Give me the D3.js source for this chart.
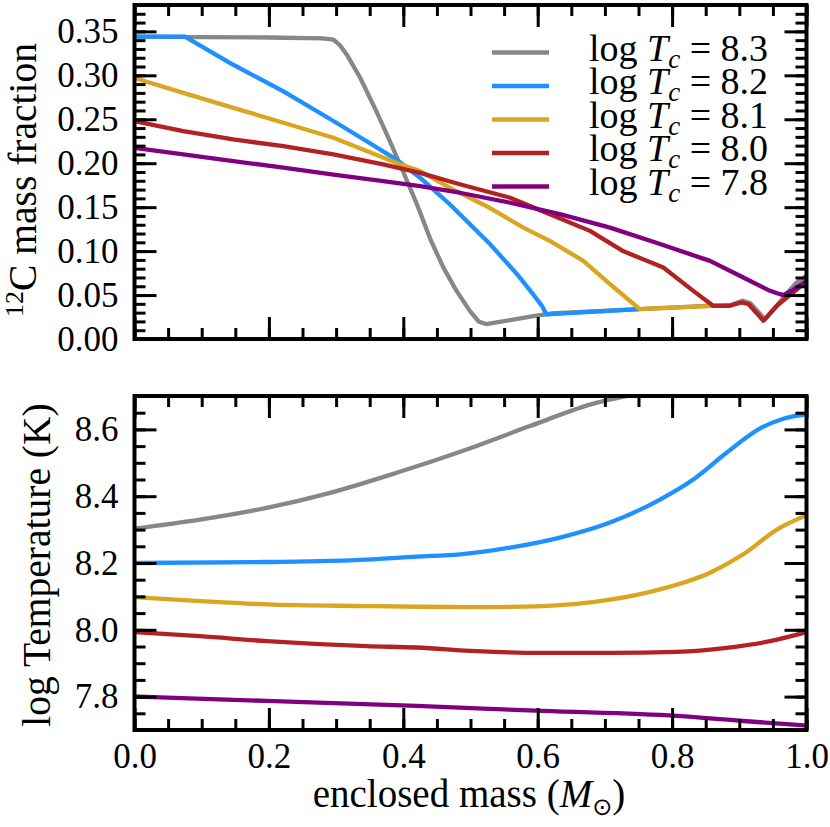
<!DOCTYPE html>
<html>
<head>
<meta charset="utf-8">
<script src="https://cdn.jsdelivr.net/npm/d3@7"></script>
<style>
  body { margin: 0; background: #fff; }
  svg { display: block; }
</style>
</head>
<body>
<div id="chart"></div>
<script>
const seriesNames = ['8.3', '8.2', '8.1', '8.0', '7.8'];
const seriesColors = ['#878787', '#1e90ff', '#daa520', '#b22222', '#800080'];

// 12C mass fraction against enclosed mass, one array per log Tc
const carbon83 = [[0, .344], [.1, .3435], [.2, .343], [.28, .342], [.296, .3405], [.306, .334], [.316, .3235], [.336, .297],
  [.36, .259], [.38, .225], [.40, .19], [.422, .150], [.44, .114], [.4595, .0815], [.479, .055], [.499, .032],
  [.512, .020], [.523, .017], [.539, .019], [.559, .0215], [.598, .0265], [.62, .029], [.75, .034], [.86, .038],
  [.886, .0385], [.905, .0435], [.916, .041], [.938, .0225], [.958, .040], [.972, .053], [.985, .064], [1.0, .072]];
const carbon82 = [[0, .344], [.075, .344], [.147, .312], [.221, .282], [.296, .248], [.3455, .225], [.39, .204],
  [.425, .1835], [.4695, .153], [.529, .108], [.569, .074], [.593, .051], [.606, .038], [.613, .028], [.752, .034]];
const carbon81 = [[0, .297], [.0726, .280], [.147, .263], [.2215, .246], [.296, .229], [.3455, .214], [.395, .1987],
  [.425, .191], [.4695, .172], [.529, .149], [.5786, .1267], [.618, .1116], [.668, .0889], [.7076, .0624],
  [.737, .0435], [.752, .034], [.861, .0378]];
const carbon80 = [[0, .248], [.0726, .2365], [.147, .227], [.2215, .2194], [.296, .21], [.370, .1987], [.425, .189],
  [.484, .176], [.559, .1607], [.618, .142], [.6778, .123], [.727, .100], [.787, .0813], [.8315, .0548],
  [.861, .0378], [.886, .0378], [.9035, .0416], [.914, .0395], [.936, .0208], [.956, .0378], [.9705, .047],
  [.985, .056], [1.0, .066]];
const carbon78 = [[0, .2175], [.0726, .210], [.147, .2024], [.2215, .195], [.296, .187], [.370, .1797], [.425, .174],
  [.484, .1664], [.559, .155], [.633, .142], [.7076, .1267], [.782, .108], [.8564, .0889], [.906, .070],
  [.9457, .0548], [.9606, .051], [.9655, .050], [.98, .056], [1.0, .066]];

// log temperature against enclosed mass
const temp83 = [[0, 8.303], [.0975, 8.33], [.1967, 8.365], [.291, 8.41], [.39, 8.47], [.489, 8.536], [.5885, 8.61],
  [.688, 8.68], [.737, 8.702], [.8, 8.73], [.9, 8.77], [1.0, 8.8]];
const temp82 = [[0, 8.2], [.197, 8.203], [.3455, 8.21], [.42, 8.219], [.484, 8.226], [.559, 8.246], [.633, 8.276],
  [.7076, 8.321], [.782, 8.39], [.8315, 8.45], [.881, 8.53], [.931, 8.603], [.9655, 8.632], [1.0, 8.645]];
const temp81 = [[0, 8.098], [.0975, 8.086], [.197, 8.076], [.3455, 8.071], [.42, 8.069], [.509, 8.068], [.608, 8.071],
  [.7076, 8.09], [.782, 8.121], [.8564, 8.171], [.906, 8.226], [.956, 8.30], [1.0, 8.343]];
const temp80 = [[0, 7.993], [.0975, 7.981], [.197, 7.966], [.3455, 7.951], [.42, 7.947], [.509, 7.936], [.608, 7.931],
  [.7076, 7.931], [.807, 7.934], [.881, 7.946], [.9457, 7.966], [1.0, 7.993]];
const temp78 = [[0, 7.8], [.197, 7.787], [.42, 7.772], [.608, 7.757], [.807, 7.742], [.906, 7.727], [1.0, 7.713]];

const carbonSeries = [carbon83, carbon82, carbon81, carbon80, carbon78];
const tempSeries = [temp83, temp82, temp81, temp80, temp78];

const massTicks = [0, 0.2, 0.4, 0.6, 0.8, 1.0];
const carbonTicks = [0, 0.05, 0.10, 0.15, 0.20, 0.25, 0.30, 0.35];
const tempTicks = [7.8, 8.0, 8.2, 8.4, 8.6];

const width = 830, height = 827;
const serif = '"Liberation Serif"';

const svg = d3.select('#chart').append('svg')
  .attr('width', width)
  .attr('height', height);

const x = d3.scaleLinear().domain([0, 1]).range([134.5, 806.5]);
const yCarbon = d3.scaleLinear().domain([0, 0.38]).range([339, 5]);
const yTemp = d3.scaleLinear().domain([7.7, 8.7]).range([730, 396]);

const massMinor = d3.range(0, 1.0001, 0.05);

function drawPanel(name, y, series, curve, majorTicks, minorTicks, yFormat, xLabels) {
  const [y0, y1] = y.range();
  const [x0, x1] = x.range();
  const g = svg.append('g');

  g.append('clipPath').attr('id', 'clip-' + name)
    .append('rect')
    .attr('x', x0).attr('y', y1)
    .attr('width', x1 - x0).attr('height', y0 - y1);

  const line = d3.line().curve(curve).x(d => x(d[0])).y(d => y(d[1]));
  g.append('g')
    .attr('clip-path', `url(#clip-${name})`)
    .selectAll('path')
    .data(series)
    .join('path')
      .attr('d', line)
      .attr('fill', 'none')
      .attr('stroke', (d, i) => seriesColors[i])
      .attr('stroke-width', 4.3)
      .attr('stroke-linejoin', 'round');

  function tidy(a) {
    a.select('.domain').remove();
    a.selectAll('line').attr('stroke-width', 3);
    a.attr('font-size', 35);
  }

  // minor ticks, all four sides
  g.append('g').attr('transform', `translate(${x0},0)`)
    .call(d3.axisLeft(y).tickValues(minorTicks).tickSize(-11).tickFormat('')).call(tidy);
  g.append('g').attr('transform', `translate(${x1},0)`)
    .call(d3.axisRight(y).tickValues(minorTicks).tickSize(-11).tickFormat('')).call(tidy);
  g.append('g').attr('transform', `translate(0,${y0})`)
    .call(d3.axisBottom(x).tickValues(massMinor).tickSize(-11).tickFormat('')).call(tidy);
  g.append('g').attr('transform', `translate(0,${y1})`)
    .call(d3.axisTop(x).tickValues(massMinor).tickSize(-11).tickFormat('')).call(tidy);

  // major ticks
  g.append('g').attr('transform', `translate(${x0},0)`)
    .call(d3.axisLeft(y).tickValues(majorTicks).tickSize(-22).tickPadding(16).tickFormat(d3.format(yFormat)))
    .call(tidy);
  g.append('g').attr('transform', `translate(${x1},0)`)
    .call(d3.axisRight(y).tickValues(majorTicks).tickSize(-22).tickFormat('')).call(tidy);
  g.append('g').attr('transform', `translate(0,${y0})`)
    .call(d3.axisBottom(x).tickValues(massTicks).tickSize(-22).tickPadding(13)
      .tickFormat(xLabels ? d3.format('.1f') : ''))
    .call(tidy);
  g.append('g').attr('transform', `translate(0,${y1})`)
    .call(d3.axisTop(x).tickValues(massTicks).tickSize(-22).tickFormat('')).call(tidy);

  g.selectAll('.tick text').attr('fill', '#000');

  g.append('rect')
    .attr('x', x0).attr('y', y1)
    .attr('width', x1 - x0).attr('height', y0 - y1)
    .attr('fill', 'none')
    .attr('stroke', '#000')
    .attr('stroke-width', 4);
  return g;
}

const carbonMinor = d3.range(0, 0.3801, 0.01);
const tempMinor = d3.range(7.7, 8.7001, 0.05);

drawPanel('carbon', yCarbon, carbonSeries, d3.curveLinear, carbonTicks, carbonMinor, '.2f', false);
drawPanel('temp', yTemp, tempSeries, d3.curveMonotoneX, tempTicks, tempMinor, '.1f', true);

// legend
const legend = svg.append('g');
seriesNames.forEach((name, i) => {
  const ly = 52.5 + i * 33.5;
  legend.append('line')
    .attr('x1', 492).attr('x2', 549)
    .attr('y1', ly).attr('y2', ly)
    .attr('stroke', seriesColors[i])
    .attr('stroke-width', 4.3);
  const t = legend.append('text')
    .attr('x', 589).attr('y', ly + 8)
    .attr('font-size', 38);
  t.append('tspan').text('log ');
  t.append('tspan').attr('font-style', 'italic').text('T');
  t.append('tspan').attr('font-style', 'italic').attr('font-size', 27).attr('dy', 7).text('c');
  t.append('tspan').attr('dy', -7).text(' = ' + name);
});

// axis titles
const yl1 = svg.append('text')
  .attr('transform', 'translate(36,180) rotate(-90)')
  .attr('text-anchor', 'middle')
  .attr('font-size', 39.5);
yl1.append('tspan').attr('font-size', 26).attr('dy', -13).text('12');
yl1.append('tspan').attr('dy', 13).text('C mass fraction');

svg.append('text')
  .attr('transform', 'translate(50,565) rotate(-90)')
  .attr('text-anchor', 'middle')
  .attr('font-size', 39.5)
  .text('log Temperature (K)');

const xl = svg.append('text')
  .attr('x', 469).attr('y', 807)
  .attr('text-anchor', 'middle')
  .attr('font-size', 39);
xl.append('tspan').text('enclosed mass (');
xl.append('tspan').attr('font-style', 'italic').text('M');
xl.append('tspan').attr('class', 'sun').attr('font-size', 24).attr('dy', 8).text('\u2299');
xl.append('tspan').attr('dy', -8).text(')');

svg.selectAll('text').style('font-family', serif);
svg.selectAll('tspan.sun').style('font-family', '"DejaVu Sans"');
</script>
</body>
</html>
